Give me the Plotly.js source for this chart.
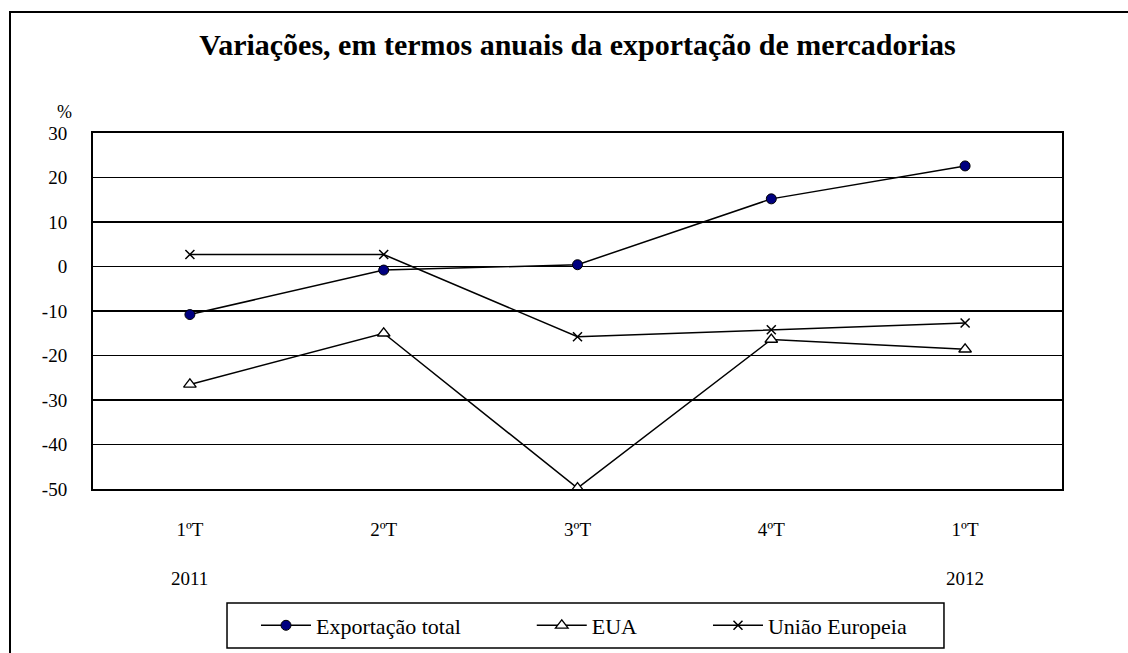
<!DOCTYPE html>
<html>
<head>
<meta charset="utf-8">
<script src="https://cdn.plot.ly/plotly-3.0.1.min.js"></script>
<style>
html,body{margin:0;padding:0;background:#fff;}
#wrap{position:relative;width:1128px;height:653px;overflow:hidden;}
#chart{width:1128px;height:653px;}
#frame{position:absolute;left:9px;top:11px;width:1200px;height:700px;border:2px solid #000;pointer-events:none;}
</style>
</head>
<body>
<div id="wrap"><div id="chart"></div><div id="frame"></div></div>
<script>
const categories = ["1T 2011", "2T 2011", "3T 2011", "4T 2011", "1T 2012"];
const quarterLabels = ["1ºT", "2ºT", "3ºT", "4ºT", "1ºT"];
const yearLabels = ["2011", "", "", "", "2012"];
const yTickValues = [30, 20, 10, 0, -10, -20, -30, -40, -50];
const yTickLabels = ["30", "20", "10", "0", "-10", "-20", "-30", "-40", "-50"];
const seriesNames = ["Exportação total", "EUA", "União Europeia"];
const exportacaoTotal = [-10.8, -0.8, 0.4, 15.2, 22.6];
const eua = [-26.5, -15.0, -49.8, -16.4, -18.6];
const uniaoEuropeia = [2.7, 2.7, -15.8, -14.2, -12.7];

const fontFamily = "Liberation Serif, Times New Roman, serif";
const gap = "\u00a0".repeat(12);

const traces = [
  {x: categories, y: exportacaoTotal, name: seriesNames[0] + gap, type: "scatter", mode: "lines+markers",
   line: {color: "#000", width: 1.5},
   marker: {symbol: "circle", size: 10, color: "#000080", line: {color: "#000", width: 1}}},
  {x: categories, y: eua, name: seriesNames[1] + gap, type: "scatter", mode: "lines+markers",
   line: {color: "#000", width: 1.5},
   marker: {symbol: "triangle-up", size: 11, color: "#fff", line: {color: "#000", width: 1.3}}},
  {x: categories, y: uniaoEuropeia, name: seriesNames[2], type: "scatter", mode: "lines+markers",
   line: {color: "#000", width: 1.5},
   marker: {symbol: "x-thin-open", size: 9, color: "#000", line: {color: "#000", width: 1.5}}}
];

const annotations = [
  {text: "%", xref: "paper", yref: "paper", x: -0.02, y: 1.06, xanchor: "right", yanchor: "middle",
   showarrow: false, font: {family: fontFamily, size: 18, color: "#000"}}
];
categories.forEach((c, i) => {
  if (yearLabels[i]) {
    annotations.push({text: yearLabels[i], xref: "x", yref: "paper", x: c, y: -0.25,
      xanchor: "center", yanchor: "middle", showarrow: false,
      font: {family: fontFamily, size: 19, color: "#000"}});
  }
});

const layout = {
  width: 1128, height: 653,
  margin: {l: 93, r: 66, t: 133, b: 164, autoexpand: false},
  paper_bgcolor: "#fff", plot_bgcolor: "#fff",
  font: {family: fontFamily, size: 18, color: "#000"},
  title: {text: "<b>Variações, em termos anuais da exportação de mercadorias</b>",
          x: 0.5, xref: "paper", y: 0.932, yref: "container", yanchor: "middle",
          font: {family: fontFamily, size: 30, color: "#000"}},
  xaxis: {type: "category", range: [-0.5, 4.5], tickvals: categories, ticktext: quarterLabels,
          showgrid: false, zeroline: false, showline: true, mirror: true,
          linecolor: "#000", linewidth: 2, ticks: "", ticklabelstandoff: 22,
          tickfont: {family: fontFamily, size: 19, color: "#000"}, fixedrange: true},
  yaxis: {range: [-50, 30], tickvals: yTickValues, ticktext: yTickLabels,
          showgrid: true, gridcolor: "#000", gridwidth: 1.3,
          zeroline: false, showline: true, mirror: true, linecolor: "#000", linewidth: 2,
          ticks: "", ticklabelstandoff: 20,
          tickfont: {family: fontFamily, size: 19, color: "#000"}, fixedrange: true},
  showlegend: true,
  legend: {orientation: "h", x: 0.1682, xanchor: "left", y: -0.3834, yanchor: "middle",
           borderwidth: 0, bgcolor: "rgba(0,0,0,0)",
           font: {family: fontFamily, size: 22, color: "#000"}, itemwidth: 50, tracegroupgap: 0},
  shapes: [
    {type: "rect", xref: "paper", yref: "paper", x0: 0.1383, x1: 0.8782, y0: -0.3202, y1: -0.4466,
     line: {color: "#000", width: 1.5}, fillcolor: "rgba(0,0,0,0)", layer: "below"}
  ],
  annotations: annotations
};

Plotly.newPlot("chart", traces, layout, {displayModeBar: false, staticPlot: true});
</script>
</body>
</html>
